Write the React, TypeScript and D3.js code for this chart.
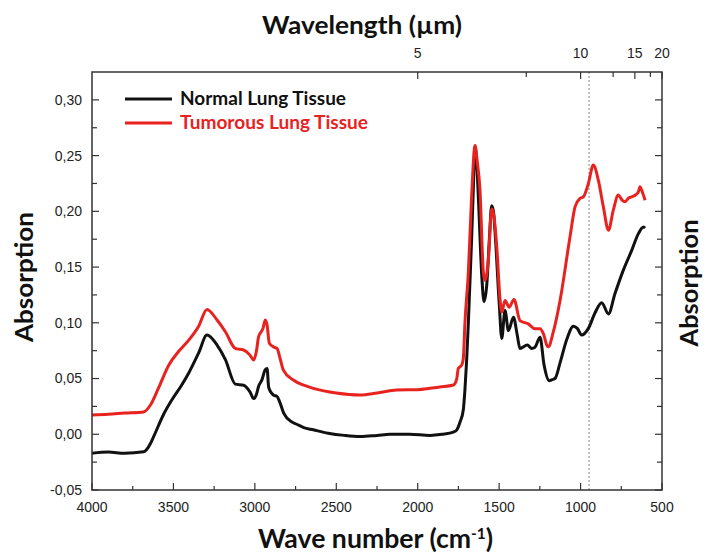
import React from "react";
import * as d3 from "d3";

const normalWn = [4000, 3900, 3800, 3683, 3640, 3621, 3560, 3509, 3450, 3406, 3345, 3294, 3232, 3181, 3120, 3069, 3030, 3007, 2990, 2977, 2956, 2936, 2925, 2915, 2884, 2864, 2850, 2823, 2772, 2743, 2700, 2641, 2550, 2450, 2354, 2250, 2170, 2050, 1925, 1850, 1781, 1760, 1740, 1720, 1710, 1699, 1689, 1669, 1655, 1648, 1640, 1628, 1607, 1593, 1576, 1560, 1546, 1535, 1525, 1499, 1484, 1464, 1443, 1412, 1390, 1372, 1327, 1300, 1280, 1249, 1224, 1192, 1175, 1157, 1126, 1085, 1044, 1020, 993, 952, 911, 870, 829, 789, 738, 686, 645, 614, 604];
const normalAbs = [-0.017, -0.016, -0.017, -0.0157, -0.008, -0.002, 0.018, 0.031, 0.044, 0.055, 0.073, 0.089, 0.08, 0.067, 0.045, 0.044, 0.038, 0.032, 0.036, 0.043, 0.049, 0.058, 0.059, 0.042, 0.035, 0.034, 0.03, 0.019, 0.011, 0.009, 0.006, 0.004, 0.001, -0.001, -0.002, -0.001, 0.0, 0.0, -0.001, 0.0, 0.002, 0.004, 0.011, 0.022, 0.04, 0.068, 0.1, 0.175, 0.235, 0.258, 0.25, 0.214, 0.143, 0.119, 0.134, 0.175, 0.205, 0.2, 0.181, 0.116, 0.086, 0.111, 0.093, 0.105, 0.09, 0.077, 0.08, 0.077, 0.078, 0.087, 0.062, 0.048, 0.049, 0.05, 0.064, 0.085, 0.097, 0.095, 0.089, 0.095, 0.109, 0.118, 0.108, 0.126, 0.147, 0.165, 0.18, 0.186, 0.185];

const tumorWn = [4000, 3900, 3800, 3683, 3642, 3590, 3529, 3470, 3406, 3345, 3294, 3232, 3181, 3120, 3069, 3030, 3007, 2990, 2977, 2950, 2936, 2925, 2911, 2880, 2864, 2845, 2825, 2764, 2700, 2641, 2500, 2354, 2250, 2129, 2000, 1925, 1863, 1781, 1760, 1751, 1730, 1720, 1710, 1689, 1670, 1648, 1635, 1618, 1597, 1587, 1566, 1546, 1536, 1515, 1495, 1484, 1464, 1438, 1409, 1372, 1321, 1280, 1249, 1229, 1204, 1198, 1167, 1126, 1065, 1034, 1004, 983, 952, 922, 891, 860, 829, 799, 768, 745, 727, 705, 686, 660, 645, 635, 625, 615, 604];
const tumorAbs = [0.0173, 0.018, 0.019, 0.02, 0.026, 0.042, 0.062, 0.074, 0.0845, 0.097, 0.112, 0.1025, 0.092, 0.077, 0.0756, 0.071, 0.0666, 0.075, 0.0875, 0.095, 0.1025, 0.098, 0.0816, 0.078, 0.077, 0.068, 0.0576, 0.0487, 0.044, 0.0412, 0.037, 0.0352, 0.037, 0.0397, 0.04, 0.0412, 0.0424, 0.0442, 0.05, 0.059, 0.062, 0.068, 0.1, 0.1455, 0.21, 0.259, 0.245, 0.22, 0.1455, 0.138, 0.157, 0.202, 0.199, 0.169, 0.122, 0.1096, 0.12, 0.114, 0.121, 0.102, 0.099, 0.0947, 0.0947, 0.0905, 0.079, 0.0785, 0.092, 0.12, 0.177, 0.204, 0.2116, 0.213, 0.225, 0.2415, 0.228, 0.204, 0.183, 0.201, 0.2146, 0.21, 0.2086, 0.212, 0.213, 0.215, 0.2175, 0.222, 0.219, 0.215, 0.21];

const xTicks = [4000, 3500, 3000, 2500, 2000, 1500, 1000, 500];
const xMinor = [3750, 3250, 2750, 2250, 1750, 1250, 750];
const yTicks = [-0.05, 0.0, 0.05, 0.1, 0.15, 0.2, 0.25, 0.3];
const yMinor = [-0.025, 0.025, 0.075, 0.125, 0.175, 0.225, 0.275];
const topLabels = [5, 10, 15, 20];
const topMinor = [7.5, 12.5, 17.5];
const markerWn = 948;

const legendItems = ["Normal Lung Tissue", "Tumorous Lung Tissue"];
const legendWidths = [166, 188];
const colors = ["#111111", "#e8231f"];

export default function App() {
  const L = 92, R = 662, T = 72, B = 490;
  const x = d3.scaleLinear().domain([4000, 500]).range([L, R]);
  const y = d3.scaleLinear().domain([-0.05, 0.325]).range([B, T]);
  const line = d3
    .line<[number, number]>()
    .x((d) => x(d[0]))
    .y((d) => y(d[1]))
    .curve(d3.curveMonotoneX);
  const normal = normalWn.map((w, i) => [w, normalAbs[i]] as [number, number]);
  const tumor = tumorWn.map((w, i) => [w, tumorAbs[i]] as [number, number]);
  const fmt = (v: number) => d3.format(".2f")(v).replace(".", ",").replace("−", "-");
  const tickFont = "'Liberation Sans', Arial, sans-serif";
  const titleFont = "Lato, 'Open Sans', sans-serif";
  const axisColor = "#333";

  return (
    <svg width={706} height={556} style={{ position: "absolute", left: 0, top: 0, background: "#fff" }}>
      <rect x={0} y={0} width={706} height={556} fill="#fff" />
      <line x1={x(markerWn)} x2={x(markerWn)} y1={T} y2={B} stroke="#888" strokeWidth={1} strokeDasharray="2,2" />
      <path d={line(normal) || ""} fill="none" stroke={colors[0]} strokeWidth={3} strokeLinejoin="round" />
      <path d={line(tumor) || ""} fill="none" stroke={colors[1]} strokeWidth={3} strokeLinejoin="round" />
      <rect x={L} y={T} width={R - L} height={B - T} fill="none" stroke={axisColor} strokeWidth={1.5} />
      {xTicks.map((t) => (
        <g key={"xb" + t}>
          <line x1={x(t)} x2={x(t)} y1={B} y2={B - 7} stroke={axisColor} strokeWidth={1.2} />
          <text x={x(t)} y={512} textAnchor="middle" fontFamily={tickFont} fontSize={14} fill="#222">
            {t}
          </text>
        </g>
      ))}
      {xMinor.map((t) => (
        <line key={"xm" + t} x1={x(t)} x2={x(t)} y1={B} y2={B - 4} stroke={axisColor} strokeWidth={1.2} />
      ))}
      {yTicks.map((t) => (
        <g key={"y" + t}>
          <line x1={L} x2={L + 7} y1={y(t)} y2={y(t)} stroke={axisColor} strokeWidth={1.2} />
          <line x1={R} x2={R - 7} y1={y(t)} y2={y(t)} stroke={axisColor} strokeWidth={1.2} />
          <text x={82} y={y(t)} dy="0.35em" textAnchor="end" fontFamily={tickFont} fontSize={14} fill="#222">
            {fmt(t)}
          </text>
        </g>
      ))}
      {yMinor.map((t) => (
        <g key={"ym" + t}>
          <line x1={L} x2={L + 5} y1={y(t)} y2={y(t)} stroke={axisColor} strokeWidth={1.2} />
          <line x1={R} x2={R - 5} y1={y(t)} y2={y(t)} stroke={axisColor} strokeWidth={1.2} />
        </g>
      ))}
      {topLabels.map((t) => (
        <g key={"tl" + t}>
          <line x1={x(10000 / t)} x2={x(10000 / t)} y1={T} y2={T + 7} stroke={axisColor} strokeWidth={1.2} />
          <text x={x(10000 / t)} y={58} textAnchor="middle" fontFamily={tickFont} fontSize={14} fill="#222">
            {t}
          </text>
        </g>
      ))}
      {topMinor.map((t) => (
        <line key={"tm" + t} x1={x(10000 / t)} x2={x(10000 / t)} y1={T} y2={T + 5} stroke={axisColor} strokeWidth={1.2} />
      ))}
      <text x={362} y={34} textAnchor="middle" fontFamily={titleFont} fontWeight="bold" fontSize={25} fill="#111" textLength={200} lengthAdjust="spacingAndGlyphs">
        Wavelength (µm)
      </text>
      <text x={258} y={548} fontFamily={titleFont} fontWeight="bold" fontSize={26} fill="#111" textLength={235} lengthAdjust="spacingAndGlyphs">
        Wave number (cm<tspan dy={-9} fontSize={15}>-1</tspan><tspan dy={9}>)</tspan>
      </text>
      <text transform="translate(33,277) rotate(-90)" textAnchor="middle" fontFamily={titleFont} fontWeight="bold" fontSize={25} fill="#111" textLength={130} lengthAdjust="spacingAndGlyphs">
        Absorption
      </text>
      <text transform="translate(698,283) rotate(-90)" textAnchor="middle" fontFamily={titleFont} fontWeight="bold" fontSize={25} fill="#111" textLength={127} lengthAdjust="spacingAndGlyphs">
        Absorption
      </text>
      {legendItems.map((name, i) => (
        <g key={name}>
          <line x1={125} x2={172} y1={99 + i * 24} y2={99 + i * 24} stroke={colors[i]} strokeWidth={3} />
          <text x={180} y={105 + i * 24} fontFamily={titleFont} fontWeight="bold" fontSize={18} fill={colors[i]} textLength={legendWidths[i]} lengthAdjust="spacingAndGlyphs">
            {name}
          </text>
        </g>
      ))}
    </svg>
  );
}
